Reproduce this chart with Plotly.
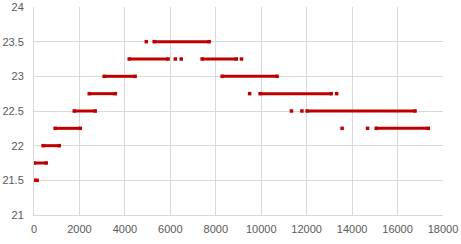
import plotly.graph_objects as go

# Each run: temperature level, start x, end x (a dot has start == end)
levels  = [21.5, 21.75, 22.0, 22.25, 22.5, 22.75, 23.0,
           23.25, 23.25, 23.25, 23.25, 23.25,
           23.5, 23.5,
           23.0,
           22.75, 22.75, 22.75,
           22.5, 22.5, 22.5,
           22.25, 22.25, 22.25]
x_start = [0, 0, 400, 930, 1770, 2430, 3090,
           4190, 6220, 6480, 7400, 9130,
           4940, 5290,
           8280,
           9490, 9950, 13320,
           11330, 11790, 12020,
           13560, 14680, 15060]
x_end   = [140, 540, 1110, 2035, 2695, 3580, 4450,
           5900, 6220, 6480, 8900, 9130,
           4940, 7710,
           10700,
           9490, 13080, 13320,
           11330, 11790, 16770,
           13560, 14680, 17350]

xs, ys = [], []
for lv, a, b in zip(levels, x_start, x_end):
    if a == b:
        xs += [a, None]
        ys += [lv, None]
    else:
        xs += [a, b, None]
        ys += [lv, lv, None]

red = "#C00000"
fig = go.Figure(go.Scatter(
    x=xs, y=ys, mode="lines+markers",
    line=dict(color=red, width=3),
    marker=dict(symbol="square", size=3.5, color=red, line=dict(width=0)),
    connectgaps=False, hoverinfo="skip", showlegend=False,
))

grid = "#d9d9d9"
tickfont = dict(family="Liberation Sans, Arial, sans-serif", size=11, color="#595959")
fig.update_layout(
    width=461, height=244,
    margin=dict(l=34, r=18, t=7, b=29),
    paper_bgcolor="white", plot_bgcolor="white",
    xaxis=dict(range=[0, 18000], dtick=2000, tick0=0, tickformat="d",
               showgrid=True, gridcolor=grid, gridwidth=1,
               showline=True, linecolor=grid, linewidth=1,
               zeroline=False, ticks="", tickfont=tickfont,
               automargin=False, ticklabelstandoff=4),
    yaxis=dict(range=[21, 24], dtick=0.5, tick0=21,
               showgrid=True, gridcolor=grid, gridwidth=1,
               showline=True, linecolor=grid, linewidth=1,
               zeroline=False, ticks="", tickfont=tickfont,
               automargin=False, ticklabelstandoff=7),
)
fig.write_html("out.html")
